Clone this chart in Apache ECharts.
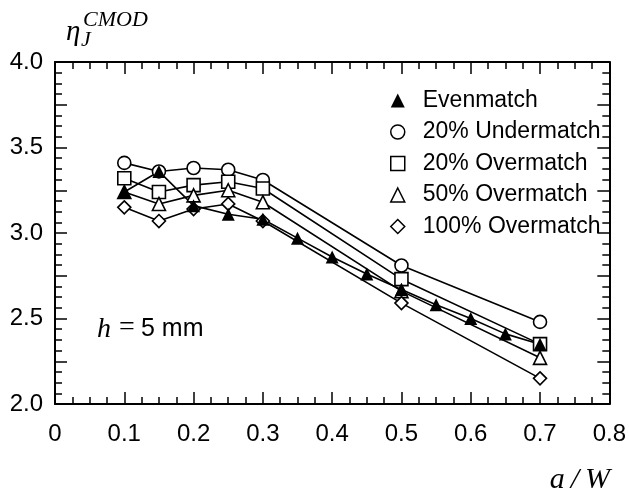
<!DOCTYPE html>
<html>
<head>
<meta charset="utf-8">
<script src="https://cdn.jsdelivr.net/npm/echarts@6/dist/echarts.min.js"></script>
<style>
    html, body { margin: 0; padding: 0; background: #fff; }
    #chart { width: 629px; height: 501px; }
</style>
</head>
<body>
<div id="chart"></div>
<script>
// a/W positions
var xShort = [0.1, 0.15, 0.2, 0.25, 0.3, 0.5, 0.7];
var xEven = [0.1, 0.15, 0.2, 0.25, 0.3, 0.35, 0.4, 0.45, 0.5, 0.55, 0.6, 0.65, 0.7];

// eta_J^CMOD values
var evenmatch = [3.24, 3.36, 3.16, 3.11, 3.08, 2.97, 2.86, 2.76, 2.67, 2.58, 2.50, 2.41, 2.35];
var under20 = [3.41, 3.36, 3.38, 3.37, 3.31, 2.81, 2.48];
var over20 = [3.32, 3.24, 3.28, 3.30, 3.26, 2.73, 2.35];
var over50 = [3.24, 3.17, 3.22, 3.25, 3.18, 2.66, 2.27];
var over100 = [3.15, 3.07, 3.14, 3.17, 3.07, 2.59, 2.15];

var xTicks = [0, 0.1, 0.2, 0.3, 0.4, 0.5, 0.6, 0.7, 0.8];
var yTicks = [2.0, 2.5, 3.0, 3.5, 4.0];

var SANS = "'Liberation Sans', Arial, sans-serif";
var SERIF = "'Liberation Serif', 'DejaVu Serif', serif";

function pairs(xs, ys) {
    return xs.map(function (x, i) { return [x, ys[i]]; });
}

function makeAxis(dim, pos, showLabels) {
    var isX = dim === "x";
    var axis = {
        type: "value",
        position: pos,
        min: isX ? xTicks[0] : yTicks[0],
        max: isX ? xTicks[xTicks.length - 1] : yTicks[yTicks.length - 1],
        interval: isX ? 0.1 : 0.25,
        axisLine: { show: true, onZero: false, lineStyle: { color: "#000", width: 2 } },
        axisTick: { show: true, inside: true, length: 12, lineStyle: { color: "#000", width: 1.5 } },
        minorTick: { show: true, splitNumber: 4, length: 7, lineStyle: { color: "#000", width: 1.5 } },
        splitLine: { show: false },
        axisLabel: { show: false }
    };
    if (showLabels) {
        axis.axisLabel = {
            show: true,
            color: "#000",
            fontFamily: SANS,
            fontSize: 24,
            margin: isX ? 18 : 12,
            formatter: function (v) {
                if (isX) {
                    return Math.abs(v) < 1e-9 ? "0" : v.toFixed(1);
                }
                var ok = yTicks.some(function (t) { return Math.abs(t - v) < 1e-6; });
                return ok ? v.toFixed(1) : "";
            }
        };
    }
    return axis;
}

function lineSeries(name, data, symbol, filled) {
    return {
        name: name,
        type: "line",
        data: data,
        symbol: symbol,
        symbolSize: 13,
        showAllSymbol: true,
        lineStyle: { color: "#000", width: 1.6 },
        itemStyle: {
            color: filled ? "#000" : "#fff",
            borderColor: "#000",
            borderWidth: filled ? 0 : 1.6
        },
        emphasis: { disabled: true },
        animation: false
    };
}

var chart = echarts.init(document.getElementById("chart"), null, { renderer: "canvas" });

var legendItems = [
    { name: "Evenmatch", icon: "triangle", itemStyle: { color: "#000", borderWidth: 0 } },
    { name: "20% Undermatch", icon: "circle", itemStyle: { color: "#fff", borderColor: "#000", borderWidth: 1.5 } },
    { name: "20% Overmatch", icon: "rect", itemStyle: { color: "#fff", borderColor: "#000", borderWidth: 1.5 } },
    { name: "50% Overmatch", icon: "triangle", itemStyle: { color: "#fff", borderColor: "#000", borderWidth: 1.5 } },
    { name: "100% Overmatch", icon: "diamond", itemStyle: { color: "#fff", borderColor: "#000", borderWidth: 1.5 } }
];

var option = {
    backgroundColor: "#fff",
    animation: false,
    grid: { left: 55, right: 17, top: 62, bottom: 97, containLabel: false },
    xAxis: [makeAxis("x", "bottom", true), makeAxis("x", "top", false)],
    yAxis: [makeAxis("y", "left", true), makeAxis("y", "right", false)],
    legend: {
        data: legendItems,
        orient: "vertical",
        left: 385,
        top: 84,
        itemWidth: 14,
        itemHeight: 14,
        itemGap: 8.5,
        selectedMode: false,
        textStyle: { color: "#000", fontFamily: SANS, fontSize: 23, padding: [0, 0, 0, 13] }
    },
    series: [
        lineSeries("20% Undermatch", pairs(xShort, under20), "circle", false),
        lineSeries("20% Overmatch", pairs(xShort, over20), "rect", false),
        lineSeries("50% Overmatch", pairs(xShort, over50), "triangle", false),
        lineSeries("100% Overmatch", pairs(xShort, over100), "diamond", false),
        lineSeries("Evenmatch", pairs(xEven, evenmatch), "triangle", true)
    ],
    graphic: [
        // y-axis title: eta_J^CMOD
        { type: "text", left: 66, top: 18, style: { text: "η", font: "italic 29px " + SERIF, fill: "#000" } },
        { type: "text", left: 81, top: 29, style: { text: "J", font: "italic 22px " + SERIF, fill: "#000" } },
        { type: "text", left: 83, top: 9, style: { text: "CMOD", font: "italic 22px " + SERIF, fill: "#000" } },
        // x-axis title
        { type: "text", right: 19, top: 465, style: { text: "a\u2009/\u2009W", font: "italic 30px " + SERIF, fill: "#000" } },
        // annotation
        { type: "text", left: 97, top: 316, style: { text: "h", font: "italic 28px " + SERIF, fill: "#000" } },
        { type: "text", left: 119, top: 314, style: { text: "=", font: "28px " + SERIF, fill: "#000" } },
        { type: "text", left: 141, top: 317, style: { text: "5 mm", font: "25px " + SANS, fill: "#000" } }
    ]
};

chart.setOption(option);
</script>
</body>
</html>
